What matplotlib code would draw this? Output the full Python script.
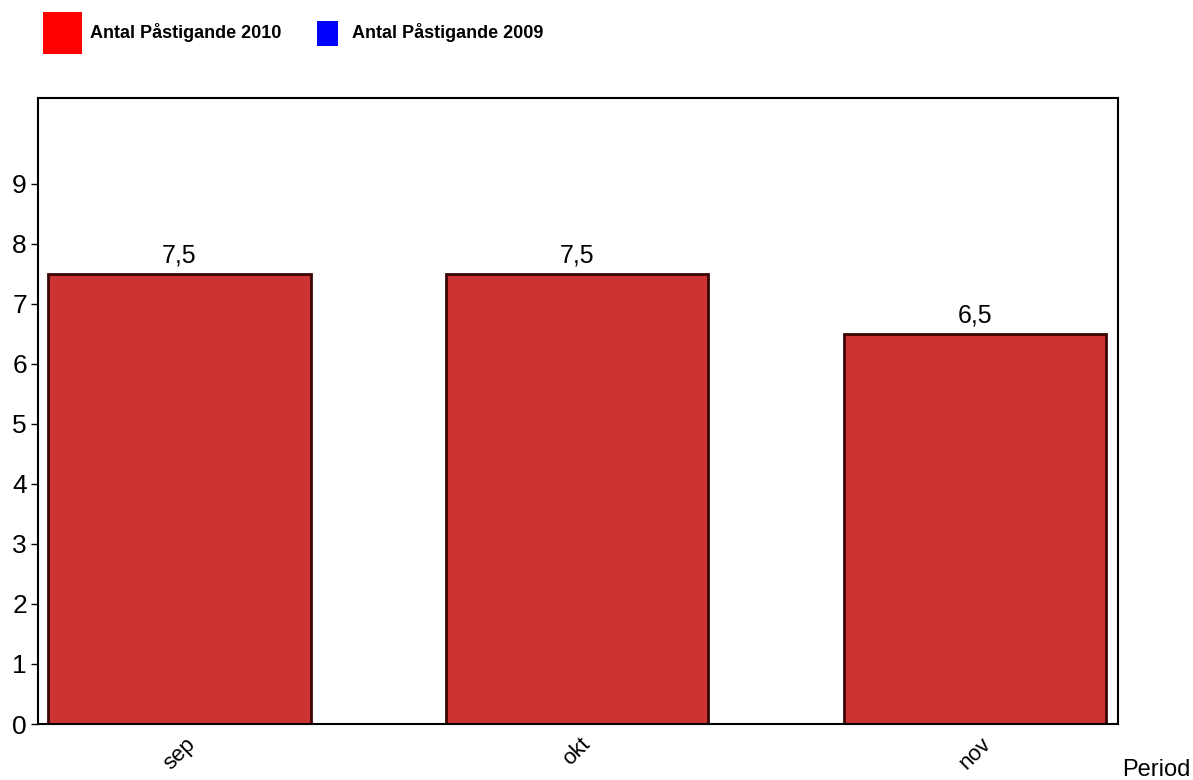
import matplotlib
matplotlib.use("Agg")
import matplotlib.pyplot as plt
from matplotlib.patches import Rectangle

plt.rcParams['font.family'] = ['Liberation Sans', 'DejaVu Sans']

categories = ["sep", "okt", "nov"]
values_2010 = [7.5, 7.5, 6.5]
value_labels = ["7,5", "7,5", "6,5"]
yticks = list(range(0, 10))
series_names = ["Antal Påstigande 2010", "Antal Påstigande 2009"]

W, H = 1193, 780
fig = plt.figure(figsize=(W / 100, H / 100), dpi=100)
ax = fig.add_axes([38 / W, (H - 724) / H, 1080 / W, 626 / H])

x = list(range(len(categories)))
ax.bar(x, values_2010, width=0.66, color="#CC3333", edgecolor="#3A0505", linewidth=2, zorder=2)
for xi, v, lab in zip(x, values_2010, value_labels):
    ax.text(xi, v + 0.1, lab, ha="center", va="bottom", fontsize=18)

ax.set_xlim(-0.356, 2.36)
ax.set_ylim(0, 10.43)
ax.set_yticks(yticks)
ax.set_yticklabels([str(t) for t in yticks], fontsize=19)
ax.set_xticks(x)
ax.set_xticklabels(categories, rotation=45, ha="center", fontsize=16)
ax.tick_params(axis="x", length=0, pad=7)
ax.tick_params(axis="y", length=5, width=1, pad=3)
for s in ax.spines.values():
    s.set_linewidth(1.5)
    s.set_color("black")

fig.text(1122 / W, 1 - 770 / H, "Period", fontsize=17, ha="left", va="center")

# legend
fig.patches.append(Rectangle((43 / W, 1 - 54 / H), 39 / W, 42 / H, transform=fig.transFigure,
                             facecolor="#FF0000", edgecolor="none"))
fig.text(90 / W, 1 - 33 / H, series_names[0], fontsize=13, fontweight="bold", ha="left", va="center")
fig.patches.append(Rectangle((317 / W, 1 - 46 / H), 21 / W, 25 / H, transform=fig.transFigure,
                             facecolor="#0000FF", edgecolor="none"))
fig.text(352 / W, 1 - 33 / H, series_names[1], fontsize=13, fontweight="bold", ha="left", va="center")

fig.savefig("out.png", dpi=100)
